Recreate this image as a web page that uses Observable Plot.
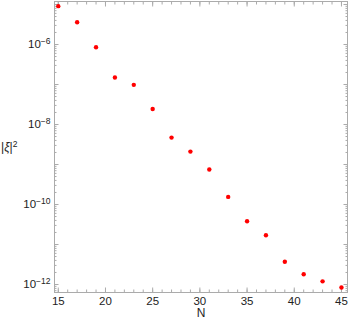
<!DOCTYPE html>
<html>
<head>
<meta charset="utf-8">
<script src="https://cdn.jsdelivr.net/npm/d3@7"></script>
<script src="https://cdn.jsdelivr.net/npm/@observablehq/plot@0.6"></script>
<style>
  html, body { margin: 0; padding: 0; background: #fff; }
  #chart svg { display: block; }
</style>
</head>
<body>
<div id="chart"></div>
<script>
// Data
const N = [15, 17, 19, 21, 23, 25, 27, 29, 31, 33, 35, 37, 39, 41, 43, 45];
const xi2 = [9.1e-6, 3.6e-6, 8.5e-7, 1.5e-7, 9.8e-8, 2.45e-8, 4.7e-9, 2.1e-9,
             7.5e-10, 1.55e-10, 3.8e-11, 1.7e-11, 3.7e-12, 1.8e-12, 1.2e-12, 8.4e-13];
const xTickLabels = [15, 20, 25, 30, 35, 40, 45];
const yTickLabels = [1e-12, 1e-10, 1e-8, 1e-6];
const xLabel = "N";
const yLabel = "|ξ|";

const points = N.map((n, i) => ({n, v: xi2[i]}));

const xDomain = [14.6, 45.64];
const yDomain = [Math.pow(10, -12.2), Math.pow(10, -4.925)];

const xMinor = d3.range(15, 46);
const yAll = d3.scaleLog().domain(yDomain).ticks(100);
const yDecades = yAll.filter(d => Math.abs(Math.log10(d) - Math.round(Math.log10(d))) < 1e-9);
const yMinor = yAll.filter(d => !yDecades.includes(d));

const frameColor = "#ababab";
const textColor = "#222";

function ticksOnly(axis, data, anchor, size) {
  return axis(data, {anchor, tickSize: size, fill: "none", stroke: frameColor, label: null});
}

const chart = Plot.plot({
  width: 349,
  height: 325,
  marginLeft: 54,
  marginRight: 2,
  marginTop: 1,
  marginBottom: 33,
  style: {fontFamily: "Liberation Sans, Arial, sans-serif", fontSize: "11.5px", color: textColor, background: "#fff"},
  x: {domain: xDomain},
  y: {type: "log", domain: yDomain},
  marks: [
    ticksOnly(Plot.axisX, xMinor, "bottom", -2.5),
    ticksOnly(Plot.axisX, xTickLabels, "bottom", -4.5),
    ticksOnly(Plot.axisX, xMinor, "top", -2.5),
    ticksOnly(Plot.axisX, xTickLabels, "top", -4.5),
    ticksOnly(Plot.axisY, yMinor, "left", -2.5),
    ticksOnly(Plot.axisY, yDecades, "left", -4.5),
    ticksOnly(Plot.axisY, yMinor, "right", -2.5),
    ticksOnly(Plot.axisY, yDecades, "right", -4.5),
    // tick labels
    Plot.axisX(xTickLabels, {anchor: "bottom", tickSize: 0, tickPadding: 4.5, fill: textColor, label: null}),
    Plot.axisY(yTickLabels, {anchor: "left", tickSize: 0, tickPadding: 4, fill: textColor, label: null,
      tickFormat: d => String(Math.round(Math.log10(d))).replace("-", "−")}),
    Plot.frame({stroke: frameColor}),
    Plot.dot(points, {x: "n", y: "v", r: 2.2, fill: "#ff0000", stroke: null}),
    Plot.text([xLabel], {frameAnchor: "bottom", dy: 21, lineAnchor: "middle", fill: textColor, fontSize: 12}),
    Plot.text([yLabel], {frameAnchor: "left", dx: -53.5, dy: 0, textAnchor: "start", lineAnchor: "middle", fill: textColor, fontSize: 12})
  ]
});

// Turn exponent labels into 10^k with raised exponent
d3.select(chart).selectAll('g[aria-label="y-axis tick label"] text').each(function() {
  const t = d3.select(this);
  const e = t.text();
  t.text("10");
  t.append("tspan").attr("dy", "-0.45em").attr("font-size", "8.5px").text(e);
});
// superscript 2 on y label
d3.select(chart).selectAll('g[aria-label="text"] text').each(function() {
  const t = d3.select(this);
  if (t.text() === yLabel) {
    t.text("");
    t.append("tspan").text("|");
    t.append("tspan").attr("font-style", "italic").text("ξ");
    t.append("tspan").text("|");
    t.append("tspan").attr("dy", "-0.45em").attr("font-size", "8.5px").text("2");
  }
});

document.getElementById("chart").appendChild(chart);
</script>
</body>
</html>
